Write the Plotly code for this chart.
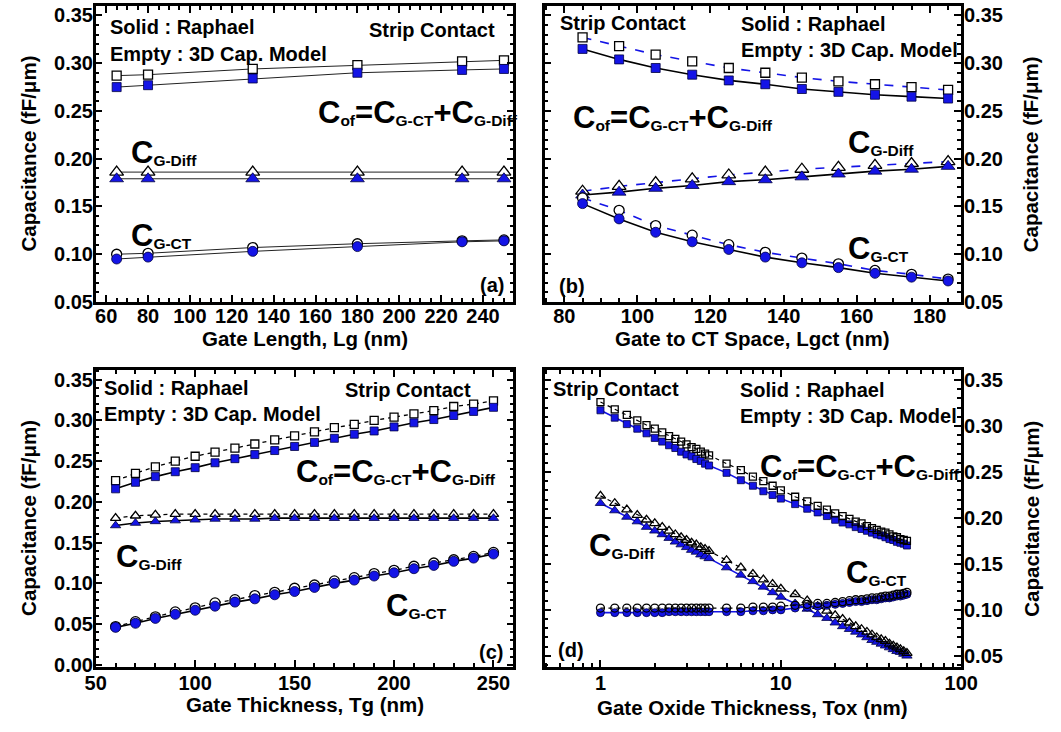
import plotly.graph_objects as go

W, H = 1061, 732
BLUE = "#1414e6"

# ---------------- data ----------------
# (a) Gate length
a_lg = [65, 80, 130, 180, 230, 250]
a_cof_rap = [0.275, 0.277, 0.284, 0.290, 0.293, 0.294]
a_cof_mod = [0.287, 0.288, 0.294, 0.298, 0.302, 0.303]
a_diff_rap = [0.179, 0.179, 0.179, 0.179, 0.179, 0.179]
a_diff_mod = [0.186, 0.186, 0.186, 0.186, 0.186, 0.186]
a_ct_rap = [0.095, 0.097, 0.103, 0.108, 0.113, 0.114]
a_ct_mod = [0.100, 0.101, 0.107, 0.111, 0.114, 0.115]

# (b) Gate to CT space
b_lgct = [85, 95, 105, 115, 125, 135, 145, 155, 165, 175, 185]
b_cof_rap = [0.315, 0.304, 0.295, 0.288, 0.282, 0.278, 0.273, 0.270, 0.267, 0.265, 0.263]
b_cof_mod = [0.327, 0.318, 0.309, 0.302, 0.295, 0.290, 0.285, 0.281, 0.278, 0.275, 0.272]
b_diff_rap = [0.162, 0.165, 0.169, 0.172, 0.176, 0.178, 0.181, 0.184, 0.187, 0.189, 0.192]
b_diff_mod = [0.166, 0.171, 0.175, 0.179, 0.183, 0.186, 0.189, 0.191, 0.193, 0.195, 0.197]
b_ct_rap = [0.153, 0.137, 0.123, 0.113, 0.105, 0.097, 0.091, 0.086, 0.080, 0.076, 0.072]
b_ct_mod = [0.159, 0.146, 0.130, 0.120, 0.110, 0.102, 0.096, 0.090, 0.083, 0.079, 0.074]

# (c) Gate thickness
c_tg = [60, 70, 80, 90, 100, 110, 120, 130, 140, 150, 160, 170, 180, 190, 200, 210, 220, 230, 240, 250]
c_cof_rap = [0.216, 0.224, 0.231, 0.237, 0.242, 0.248, 0.253, 0.258, 0.263, 0.268,
             0.273, 0.278, 0.283, 0.287, 0.292, 0.297, 0.301, 0.306, 0.311, 0.316]
c_cof_mod = [0.226, 0.235, 0.243, 0.250, 0.256, 0.261, 0.266, 0.271, 0.276, 0.281,
             0.286, 0.291, 0.295, 0.300, 0.304, 0.308, 0.312, 0.317, 0.320, 0.324]
c_diff_rap = [0.171, 0.174, 0.176, 0.177, 0.178, 0.179, 0.179, 0.179, 0.180, 0.180,
              0.180, 0.180, 0.180, 0.180, 0.180, 0.180, 0.180, 0.180, 0.180, 0.180]
c_diff_mod = [0.180, 0.183, 0.184, 0.185, 0.185, 0.185, 0.185, 0.185, 0.185, 0.185,
              0.185, 0.185, 0.185, 0.185, 0.185, 0.185, 0.185, 0.185, 0.185, 0.185]
c_ct_rap = [0.046, 0.051, 0.057, 0.062, 0.067, 0.072, 0.077, 0.081, 0.086, 0.090,
            0.095, 0.100, 0.104, 0.109, 0.113, 0.118, 0.122, 0.127, 0.131, 0.136]
c_ct_mod = [0.047, 0.053, 0.059, 0.065, 0.070, 0.076, 0.080, 0.085, 0.089, 0.094,
            0.098, 0.103, 0.107, 0.112, 0.116, 0.121, 0.125, 0.129, 0.133, 0.138]

# (d) Gate oxide thickness
d_tox = [1.0, 1.2, 1.4, 1.6, 1.8, 2.0, 2.2, 2.4, 2.6, 2.8, 3.0, 3.2, 3.4, 3.6, 3.8, 4.0,
         5, 6, 7, 8, 9, 10,
         12, 14, 16, 18, 20, 22, 24, 26, 28, 30, 32, 34, 36, 38, 40, 42, 44, 46, 48, 50]
d_cof_rap = [0.317, 0.309, 0.302, 0.297, 0.292, 0.287, 0.283, 0.279, 0.276, 0.272, 0.269, 0.267, 0.264, 0.262, 0.259, 0.257,
             0.249, 0.241, 0.235, 0.229, 0.225, 0.221,
             0.215, 0.210, 0.206, 0.202, 0.198, 0.195, 0.193, 0.190, 0.188, 0.186, 0.184, 0.182, 0.181, 0.179, 0.177, 0.176, 0.174, 0.173, 0.172, 0.170]
d_cof_mod = [0.326, 0.318, 0.312, 0.306, 0.301, 0.297, 0.293, 0.289, 0.286, 0.283, 0.280, 0.277, 0.275, 0.272, 0.270, 0.268,
             0.259, 0.252, 0.245, 0.240, 0.235, 0.230,
             0.223, 0.218, 0.213, 0.209, 0.205, 0.202, 0.199, 0.196, 0.194, 0.191, 0.189, 0.187, 0.185, 0.184, 0.182, 0.180, 0.179, 0.177, 0.176, 0.175]
d_diff_rap = [0.216, 0.208, 0.201, 0.196, 0.190, 0.186, 0.182, 0.178, 0.174, 0.171, 0.168, 0.165, 0.163, 0.160, 0.158, 0.156,
              0.146, 0.138, 0.131, 0.125, 0.119, 0.114,
              0.107, 0.101, 0.095, 0.091, 0.086, 0.082, 0.079, 0.076, 0.073, 0.070, 0.067, 0.065, 0.063, 0.061, 0.059, 0.057, 0.055, 0.054, 0.052, 0.050]
d_diff_mod = [0.224, 0.216, 0.209, 0.203, 0.198, 0.194, 0.190, 0.186, 0.182, 0.179, 0.176, 0.173, 0.171, 0.168, 0.166, 0.164,
              0.154, 0.146, 0.139, 0.133, 0.128, 0.123,
              0.117, 0.110, 0.104, 0.099, 0.094, 0.090, 0.086, 0.082, 0.079, 0.076, 0.073, 0.070, 0.068, 0.066, 0.063, 0.061, 0.059, 0.057, 0.055, 0.053]
d_ct_rap = [0.097, 0.097, 0.097, 0.097, 0.097, 0.097, 0.097, 0.098, 0.098, 0.098, 0.098, 0.098, 0.098, 0.098, 0.098, 0.098,
            0.098, 0.098, 0.099, 0.099, 0.100, 0.100,
            0.102, 0.103, 0.104, 0.105, 0.106, 0.107, 0.108, 0.109, 0.109, 0.110, 0.111, 0.111, 0.112, 0.113, 0.113, 0.114, 0.115, 0.115, 0.116, 0.117]
d_ct_mod = [0.102, 0.102, 0.102, 0.102, 0.102, 0.102, 0.102, 0.102, 0.102, 0.102, 0.102, 0.102, 0.102, 0.102, 0.102, 0.102,
            0.102, 0.102, 0.103, 0.103, 0.103, 0.104,
            0.105, 0.106, 0.107, 0.107, 0.108, 0.109, 0.110, 0.111, 0.111, 0.112, 0.113, 0.113, 0.114, 0.115, 0.115, 0.116, 0.117, 0.117, 0.118, 0.119]

x_titles = ["Gate Length, Lg (nm)", "Gate to CT Space, Lgct (nm)",
            "Gate Thickness, Tg (nm)", "Gate Oxide Thickness, Tox (nm)"]
y_title = "Capacitance (fF/\u03bcm)"

# ---------------- figure ----------------
fig = go.Figure()


def add_pair(n, x, rap, mod, symbol, size, rap_line, mod_line, model_on_top=False):
    xa, ya = "x%d" % n, "y%d" % n
    rap_tr = go.Scatter(
        x=x, y=rap, mode="lines+markers", xaxis=xa, yaxis=ya, showlegend=False,
        line=rap_line,
        marker=dict(symbol=symbol, size=size, color=BLUE, line=dict(color="#000040", width=0.8)))
    mod_fill = "rgba(255,255,255,0)" if model_on_top else "white"
    mod_tr = go.Scatter(
        x=x, y=mod, mode="lines+markers", xaxis=xa, yaxis=ya, showlegend=False,
        line=mod_line,
        marker=dict(symbol=symbol, size=size, color=mod_fill, line=dict(color="black", width=1.3)))
    if model_on_top:
        fig.add_trace(rap_tr)
        fig.add_trace(mod_tr)
    else:
        fig.add_trace(mod_tr)
        fig.add_trace(rap_tr)


thin = dict(color="#222222", width=1)
# (a)
add_pair(1, a_lg, a_cof_rap, a_cof_mod, "square", 9, thin, thin)
add_pair(1, a_lg, a_diff_rap, a_diff_mod, "triangle-up", 12, thin, thin)
add_pair(1, a_lg, a_ct_rap, a_ct_mod, "circle", 10, thin, thin)
# (b)
bs = dict(color="black", width=1.6)
bd = dict(color=BLUE, width=1.6, dash="dash")
add_pair(2, b_lgct, b_cof_rap, b_cof_mod, "square", 9, bs, bd)
add_pair(2, b_lgct, b_diff_rap, b_diff_mod, "triangle-up", 12, bs, bd)
add_pair(2, b_lgct, b_ct_rap, b_ct_mod, "circle", 10, bs, bd)
# (c)
cs = dict(color="black", width=1.6)
cd = dict(color="black", width=1.3, dash="4px,4px")
add_pair(3, c_tg, c_cof_rap, c_cof_mod, "square", 8, cs, cd)
add_pair(3, c_tg, c_diff_rap, c_diff_mod, "triangle-up", 9, cs, cd)
add_pair(3, c_tg, c_ct_rap, c_ct_mod, "circle", 10, cs, cd)
# (d)
ds = dict(color=BLUE, width=1.6)
dd = dict(color="black", width=1.2, dash="4px,4px")
add_pair(4, d_tox, d_cof_rap, d_cof_mod, "square", 7, ds, dd, True)
add_pair(4, d_tox, d_diff_rap, d_diff_mod, "triangle-up", 9, ds, dd, True)
add_pair(4, d_tox, d_ct_rap, d_ct_mod, "circle", 8, ds, dd, True)


def px(x):
    return x / W


def py(y):
    return 1 - y / H


frame = dict(showline=True, linewidth=2.5, linecolor="black", mirror="allticks",
             ticks="inside", ticklen=7, tickwidth=2, tickcolor="black",
             showgrid=False, zeroline=False, tickfont=dict(size=20))


def xax(dom, rng, dtick, minor_dtick, anchor, log=False, standoff=-6):
    d = dict(frame, domain=dom, range=rng, anchor=anchor, ticklabelstandoff=standoff,
             minor=dict(ticks="inside", ticklen=4, tickwidth=1.5, tickcolor="black",
                        dtick=minor_dtick, showgrid=False))
    if log:
        d.update(type="log", dtick=dtick)
    else:
        d.update(dtick=dtick, tick0=0)
    return d


def yax(dom, rng, side, anchor):
    return dict(frame, domain=dom, range=rng, side=side, anchor=anchor,
                dtick=0.05, tick0=0, tickformat=".2f", ticklabelstandoff=-4,
                minor=dict(ticks="inside", ticklen=4, tickwidth=1.5, tickcolor="black",
                           dtick=0.01, showgrid=False))


LX = [87, 516]
RX = [548, 976]
TOP = [306, 5]
BOT = [677, 375]

fig.update_layout(
    width=W, height=H, margin=dict(l=0, r=0, t=0, b=0),
    paper_bgcolor="white", plot_bgcolor="white", showlegend=False,
    font=dict(family="Liberation Sans, Arial, sans-serif", size=20, color="black", weight="bold"),
    xaxis=xax([px(LX[0]), px(LX[1])], [55, 254.5], 20, 5, "y"),
    yaxis=yax([py(TOP[0]), py(TOP[1])], [0.05, 0.36], "left", "x"),
    xaxis2=xax([px(RX[0]), px(RX[1])], [74.6, 188.6], 20, 5, "y2"),
    yaxis2=yax([py(TOP[0]), py(TOP[1])], [0.05, 0.36], "right", "x2"),
    xaxis3=xax([px(LX[0]), px(LX[1])], [50, 260], 50, 10, "y3", standoff=-4),
    yaxis3=yax([py(BOT[0]), py(BOT[1])], [-0.0025, 0.362], "left", "x3"),
    xaxis4=xax([px(RX[0]), px(RX[1])], [-0.31, 2.0], 1, "D1", "y4", log=True, standoff=-4),
    yaxis4=yax([py(BOT[0]), py(BOT[1])], [0.038, 0.361], "right", "x4"),
)

annotations = []


def text(s, x, y, anchor="left", size=20, angle=0, xcenter=False):
    annotations.append(dict(text=s, x=px(x), y=py(y), xref="paper", yref="paper",
                            xanchor=("center" if xcenter else anchor), yanchor="middle",
                            showarrow=False, textangle=angle,
                            font=dict(size=size), borderpad=0))


def C(sub):
    return ("<span style='font-size:31px'>C</span>"
            "<span style='font-size:15.5px;baseline-shift:-3px'>" + sub + "</span>")


def big(s):
    return "<span style='font-size:31px'>" + s + "</span>"


COF = C("of") + big("=") + C("G-CT") + big("+") + C("G-Diff")
DIFF = C("G-Diff")
CT = C("G-CT")
SOLID = "Solid : Raphael"
EMPTY = "Empty : 3D Cap. Model"
STRIP = "Strip Contact"

# axis titles
text(x_titles[0], sum(LX) / 2, 343, size=20.5, xcenter=True)
text(x_titles[1], sum(RX) / 2, 343, size=20.5, xcenter=True)
text(x_titles[2], sum(LX) / 2, 715, size=20.5, xcenter=True)
text(x_titles[3], sum(RX) / 2, 718, size=20.5, xcenter=True)
text(y_title, 18, sum(TOP) / 2, size=20.5, angle=-90, xcenter=True)
text(y_title, 1048, sum(TOP) / 2, size=20.5, angle=-90, xcenter=True)
text(y_title, 18, sum(BOT) / 2, size=20.5, angle=-90, xcenter=True)
text(y_title, 1048, sum(BOT) / 2, size=20.5, angle=-90, xcenter=True)

# (a)
text(SOLID, 101, 26.7)
text(EMPTY, 101, 53.4)
text(STRIP, 498, 29.4, "right")
text(COF, 314, 113.5, size=16)
text(DIFF, 122, 154.5, size=16)
text(CT, 122, 238.5, size=16)
text("(a)", 507, 289, "right")
# (b)
text(STRIP, 563, 22.7)
text(SOLID, 749, 23.4)
text(EMPTY, 749, 50)
text(COF, 576, 118.5, size=16)
text(DIFF, 859, 143.5, size=16)
text(CT, 859, 251.5, size=16)
text("(b)", 562, 290)
# (c)
text(SOLID, 95, 393.4)
text(EMPTY, 95, 420)
text(STRIP, 474, 395, "right")
text(COF, 292, 478.5, size=16)
text(DIFF, 107, 564.5, size=16)
text(CT, 384, 614.5, size=16)
text("(c)", 506, 662, "right")
# (d)
text(STRIP, 556, 394.5)
text(SOLID, 748, 395)
text(EMPTY, 748, 421.5)
text(COF, 768, 473.5, size=16)
text(DIFF, 593, 553.5, size=16)
text(CT, 857, 581.5, size=16)
text("(d)", 561, 660)

fig.update_layout(annotations=annotations)
fig.write_html("out.html")
